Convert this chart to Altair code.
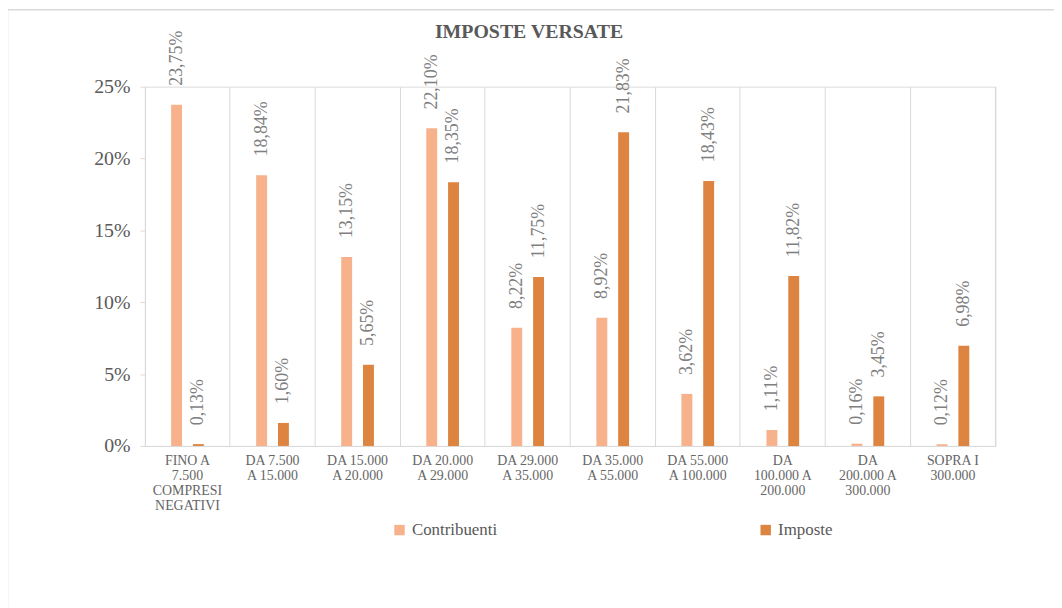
import altair as alt
import pandas as pd

categories = [
    "FINO A\n7.500\nCOMPRESI\nNEGATIVI",
    "DA 7.500\nA 15.000",
    "DA 15.000\nA 20.000",
    "DA 20.000\nA 29.000",
    "DA 29.000\nA 35.000",
    "DA 35.000\nA 55.000",
    "DA 55.000\nA 100.000",
    "DA\n100.000 A\n200.000",
    "DA\n200.000 A\n300.000",
    "SOPRA I\n300.000",
]
series_names = ["Contribuenti", "Imposte"]
contribuenti = [23.75, 18.84, 13.15, 22.10, 8.22, 8.92, 3.62, 1.11, 0.16, 0.12]
imposte = [0.13, 1.60, 5.65, 18.35, 11.75, 21.83, 18.43, 11.82, 3.45, 6.98]
y_ticks = [0, 5, 10, 15, 20, 25]
colors = ["#F7B28B", "#DD8540"]
title_text = "IMPOSTE VERSATE"

rows = []
for i, c in enumerate(categories):
    rows.append({"cat": c, "serie": series_names[0], "v": contribuenti[i]})
    rows.append({"cat": c, "serie": series_names[1], "v": imposte[i]})
df = pd.DataFrame(rows)

FONT = "Liberation Serif"
W, H = 857, 362
GRID = "#D9D9D9"

x_enc = alt.X(
    "cat:N",
    sort=categories,
    title=None,
    scale=alt.Scale(paddingInner=0, paddingOuter=0),
    axis=alt.Axis(
        labelExpr="split(datum.label, '\\n')",
        labelAngle=0,
        labelFont=FONT,
        labelFontSize=14,
        labelColor="#666666",
        labelLineHeight=15,
        labelPadding=8,
        grid=True,
        gridColor=GRID,
        gridWidth=1,
        bandPosition=0,
        domainColor=GRID,
        tickColor=GRID,
        ticks=False,
        labelLimit=200,
    ),
)
xoff = alt.XOffset(
    "serie:N",
    sort=series_names,
    scale=alt.Scale(paddingInner=0.1, paddingOuter=1),
)
y_enc = alt.Y(
    "v:Q",
    title=None,
    scale=alt.Scale(domain=[0, 25], nice=False),
    axis=alt.Axis(
        values=y_ticks,
        labelExpr="datum.value + '%'",
        labelFont=FONT,
        labelFontSize=20,
        labelColor="#595959",
        labelPadding=10,
        grid=False,
        domainColor=GRID,
        tickColor=GRID,
        tickSize=5,
    ),
)

base = alt.Chart(df)

bars = base.mark_bar(width=11).encode(
    x=x_enc,
    xOffset=xoff,
    y=y_enc,
    color=alt.Color(
        "serie:N",
        sort=series_names,
        scale=alt.Scale(domain=series_names, range=colors),
        legend=alt.Legend(
            title=None,
            orient="none",
            direction="horizontal",
            legendX=248,
            legendY=438,
            symbolType="square",
            symbolSize=110,
            symbolStrokeWidth=0,
            labelFont=FONT,
            labelFontSize=17,
            labelColor="#595959",
            columnPadding=262,
            labelOffset=4,
        ),
    ),
)

labels = base.mark_text(
    angle=270,
    align="left",
    baseline="middle",
    dx=19,
    font=FONT,
    fontSize=18,
    color="#7F7F7F",
).encode(
    x=alt.X("cat:N", sort=categories),
    xOffset=alt.XOffset("serie:N", sort=series_names),
    y=alt.Y("v:Q"),
    text=alt.Text("lbl:N"),
).transform_calculate(
    lbl="replace(format(datum.v, '.2f'), '.', ',') + '%'"
)

one = alt.Chart(pd.DataFrame({"t": [title_text]}))
title_mark = one.mark_text(
    font=FONT,
    fontSize=20,
    fontWeight="bold",
    color="#595959",
    align="center",
    baseline="middle",
).encode(x=alt.value(387), y=alt.value(-55), text="t:N")
right_edge = one.mark_rule(color=GRID, strokeWidth=1).encode(
    x=alt.value(W), y=alt.value(0), y2=alt.value(H)
)
frame_left = one.mark_rule(color="#D9D9D9", strokeWidth=1.5).encode(
    x=alt.value(-138.5), y=alt.value(-77.5), y2=alt.value(700)
)
frame_top = one.mark_rule(color="#D9D9D9", strokeWidth=1.5).encode(
    x=alt.value(-138.5), x2=alt.value(1100), y=alt.value(-77.5)
)

chart = (
    alt.layer(bars, labels, title_mark, right_edge, frame_left, frame_top)
    .properties(
        width=W,
        height=H,
        autosize=alt.AutoSizeParams(type="none"),
        padding={"left": 138, "top": 77, "right": 59, "bottom": 160},
    )
    .configure_view(stroke=None)
    .configure(background="white")
)

chart.save("out.html", embed_options={"renderer": "svg", "actions": False})
